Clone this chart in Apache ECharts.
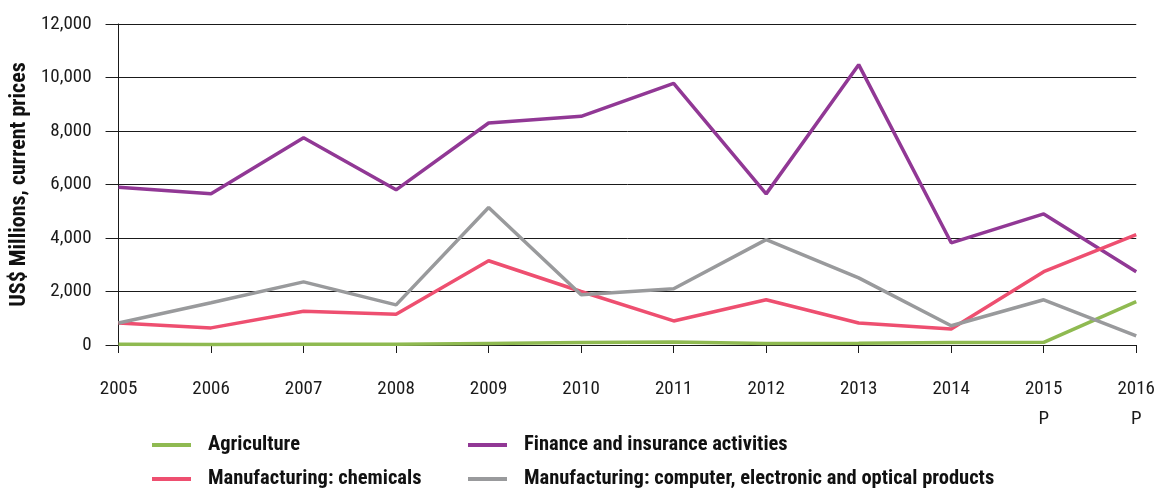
<!DOCTYPE html>
<html>
<head>
<meta charset="utf-8">
<script src="https://cdn.jsdelivr.net/npm/echarts@6/dist/echarts.min.js"></script>
<style>
html,body{margin:0;padding:0;background:#fff;}
#chart{width:1158px;height:488px;}
</style>
</head>
<body>
<div id="chart"></div>
<script>
const years = ['2005','2006','2007','2008','2009','2010','2011','2012','2013','2014','2015\nP','2016\nP'];
const agriculture = [30, 20, 30, 30, 60, 90, 110, 60, 70, 90, 100, 1620];
const finance = [5900, 5650, 7750, 5800, 8300, 8550, 9780, 5650, 10480, 3820, 4900, 2740];
const chemicals = [820, 640, 1260, 1150, 3150, 2000, 900, 1690, 820, 600, 2740, 4130];
const computer = [820, 1580, 2360, 1500, 5140, 1880, 2100, 3940, 2510, 720, 1690, 340];
const yTicks = [0, 2000, 4000, 6000, 8000, 10000, 12000];
const seriesNames = ['Agriculture', 'Finance and insurance activities', 'Manufacturing: chemicals', 'Manufacturing: computer, electronic and optical products'];

const FONT = "'Roboto Condensed', 'DejaVu Sans Condensed', sans-serif";
const colors = ['#8fba51', '#913895', '#ee4f70', '#999a9c'];

const chart = echarts.init(document.getElementById('chart'), null, {renderer:'canvas'});
function mk(i, data){
  return {name: seriesNames[i], type:'line', data, symbol:'none', smooth:false,
    lineStyle:{color:colors[i], width:3.5}, itemStyle:{color:colors[i]}};
}
function lg(i, left, top){
  return {data:[seriesNames[i]], left, top, padding:0,
    itemWidth:39, itemHeight:4, icon:'rect',
    textStyle:{fontSize:20.5, fontWeight:'bold', color:'#111', fontFamily:FONT,
      lineHeight:24, padding:[0,0,0,12]}};
}
chart.setOption({
  animation:false,
  textStyle:{fontFamily:FONT},
  grid:{left:117, right:21, top:24, bottom:143, containLabel:false},
  xAxis:{
    type:'category', data:years, boundaryGap:false,
    axisLine:{show:true, lineStyle:{color:'#1a1a1a', width:1}},
    axisTick:{show:true, alignWithLabel:true, length:8, lineStyle:{color:'#1a1a1a'}},
    axisLabel:{color:'#1a1a1a', fontSize:19, fontFamily:FONT, margin:29, lineHeight:30, interval:0}
  },
  yAxis:{
    type:'value', min:yTicks[0], max:yTicks[yTicks.length-1], interval:2000,
    name:'US$ Millions, current prices', nameLocation:'middle', nameGap:82,
    nameTextStyle:{fontSize:22, fontWeight:'bold', color:'#111', fontFamily:FONT},
    axisLine:{show:true, lineStyle:{color:'#1a1a1a', width:1}},
    axisTick:{show:true, length:13, lineStyle:{color:'#1a1a1a'}},
    splitLine:{show:true, lineStyle:{color:'#1a1a1a', width:1}},
    axisLabel:{color:'#1a1a1a', fontSize:19, fontFamily:FONT, margin:27,
      formatter:v=>v.toLocaleString('en-US')}
  },
  legend:[
    lg(0, 152, 433),
    lg(2, 152, 467),
    lg(1, 468, 433),
    lg(3, 468, 467)
  ],
  series:[
    mk(0, agriculture),
    mk(1, finance),
    mk(2, chemicals),
    mk(3, computer)
  ]
});
</script>
</body>
</html>
